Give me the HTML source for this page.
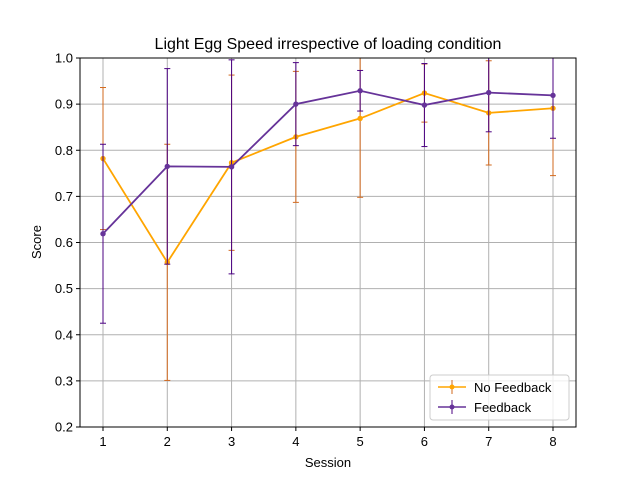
<!DOCTYPE html>
<html><head><meta charset="utf-8"><style>
body{margin:0;background:#fff;}
svg{font-family:"Liberation Sans","DejaVu Sans",sans-serif;}
</style></head><body>
<svg id="chart" width="640" height="480" viewBox="0 0 640 480" xmlns="http://www.w3.org/2000/svg">
<defs><clipPath id="clip"><rect x="80" y="58" width="496" height="369"/></clipPath></defs>
<rect width="640" height="480" fill="#fff"/>
<text x="328" y="49" font-size="16" text-anchor="middle">Light Egg Speed irrespective of loading condition</text>
<g id="grid"></g>
<g id="marks" clip-path="url(#clip)"></g>
<rect x="80" y="58" width="496" height="369" fill="none" stroke="#000" stroke-width="1"/>
<g id="ticks"></g>
<text x="328" y="467" font-size="13" text-anchor="middle">Session</text>
<text transform="translate(41,242) rotate(-90)" font-size="13" text-anchor="middle">Score</text>
<g>
<rect x="430" y="375" width="139" height="45" fill="#fff" fill-opacity="0.8" stroke="#ccc" rx="3"/>
<g>
<line x1="438" y1="387" x2="466" y2="387" stroke="#ffa500" stroke-width="1.5"/>
<line x1="452" y1="380" x2="452" y2="394" stroke="#d2691e"/><circle cx="452" cy="387" r="2.5" fill="#ffa500"/>
<text x="474" y="392" font-size="13">No Feedback</text></g>
<g>
<line x1="438" y1="407" x2="466" y2="407" stroke="#663399" stroke-width="1.5"/>
<line x1="452" y1="400" x2="452" y2="414" stroke="#4b0082"/><circle cx="452" cy="407" r="2.5" fill="#663399"/>
<text x="474" y="412" font-size="13">Feedback</text></g>
</g>
</svg>
<script>
const sessions=[1,2,3,4,5,6,7,8];
const noFeedback=[0.782,0.557,0.773,0.829,0.869,0.924,0.881,0.891];
const noFeedbackErr=[0.154,0.256,0.19,0.142,0.171,0.063,0.113,0.146];
const feedback=[0.619,0.765,0.764,0.900,0.929,0.898,0.925,0.919];
const feedbackErr=[0.194,0.212,0.232,0.09,0.044,0.09,0.085,0.093];
const yTicks=["0.2","0.3","0.4","0.5","0.6","0.7","0.8","0.9","1.0"];
const NS="http://www.w3.org/2000/svg";
function xs(v){return 103+(v-1)*(553-103)/7;}
function ys(v){return 427-(v-0.2)*369/0.8;}
function mk(tag,attrs,parent){const e=document.createElementNS(NS,tag);for(const k in attrs)e.setAttribute(k,attrs[k]);parent.appendChild(e);return e;}
const grid=document.getElementById('grid'),marks=document.getElementById('marks'),ticks=document.getElementById('ticks');
sessions.forEach(s=>{
  const g=mk('line',{x1:xs(s),x2:xs(s),y1:58,y2:427,stroke:'#b0b0b0','stroke-width':1},grid);
  
  
  mk('line',{x1:xs(s),x2:xs(s),y1:427,y2:431,stroke:'#000'},ticks);
  const t=mk('text',{x:xs(s),y:446,'font-size':13,'text-anchor':'middle'},ticks);t.textContent=s;
  
  
});
yTicks.forEach(l=>{
  const v=parseFloat(l);
  const g=mk('line',{x1:80,x2:576,y1:ys(v),y2:ys(v),stroke:'#b0b0b0','stroke-width':1},grid);
  
  
  mk('line',{x1:76,x2:80,y1:ys(v),y2:ys(v),stroke:'#000'},ticks);
  const t=mk('text',{x:73,y:ys(v)+4.5,'font-size':13,'text-anchor':'end'},ticks);t.textContent=l;
  
  
});
function series(vals,errs,color,ecolor,name){
  const g=mk('g',{},marks);
  
  
  vals.forEach((v,i)=>{
    const x=xs(sessions[i]),lo=ys(v-errs[i]),hi=ys(v+errs[i]);
    const e=mk('line',{x1:x,x2:x,y1:lo,y2:hi,stroke:ecolor,'stroke-width':1},g);
    
    
    mk('line',{x1:x-3,x2:x+3,y1:lo,y2:lo,stroke:ecolor},g);
    mk('line',{x1:x-3,x2:x+3,y1:hi,y2:hi,stroke:ecolor},g);
  });
  const p=mk('polyline',{points:vals.map((v,i)=>xs(sessions[i])+','+ys(v)).join(' '),fill:'none',stroke:color,'stroke-width':1.8},g);
  
  
  vals.forEach((v,i)=>{
    const c=mk('circle',{cx:xs(sessions[i]),cy:ys(v),r:2.7,fill:color},g);
    
    
  });
}
series(noFeedback,noFeedbackErr,'#ffa500','#d2691e','no-feedback');
series(feedback,feedbackErr,'#663399','#4b0082','feedback');
</script>
</body></html>
